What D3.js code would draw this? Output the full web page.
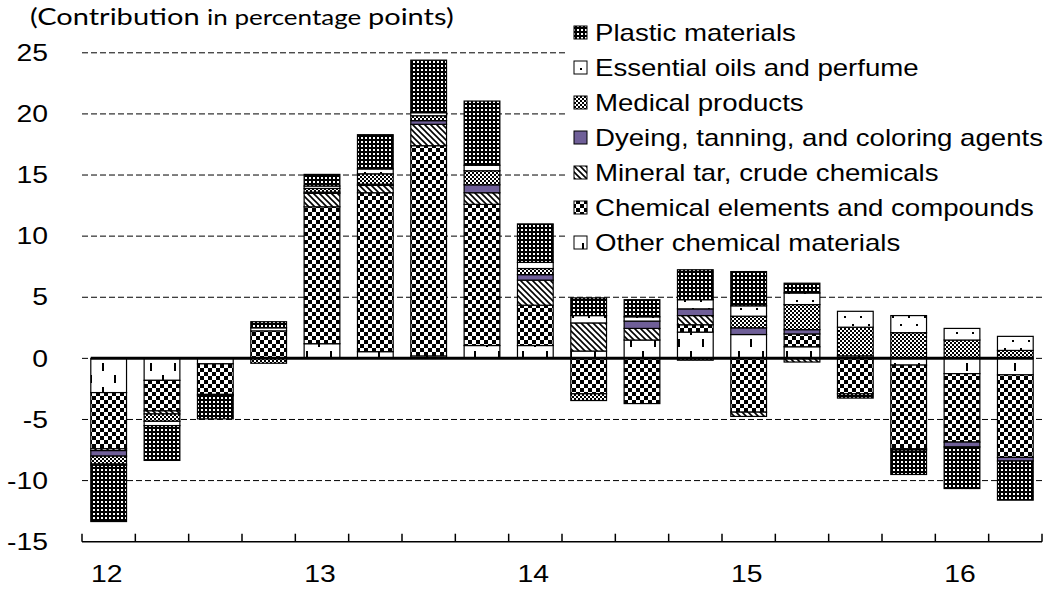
<!DOCTYPE html>
<html>
<head>
<meta charset="utf-8">
<script src="https://cdn.jsdelivr.net/npm/d3@7"></script>
<style>
  html, body { margin: 0; padding: 0; background: #fff; }
  svg { display: block; }
  text { font-family: "Liberation Sans", Arial, sans-serif; fill: #000; }
</style>
</head>
<body>
<svg id="chart" width="1055" height="592"></svg>
<script>
// Quarterly contributions (percentage points), 2012 Q1 – 2016 Q2
const quarters = ["12Q1","12Q2","12Q3","12Q4","13Q1","13Q2","13Q3","13Q4",
                  "14Q1","14Q2","14Q3","14Q4","15Q1","15Q2","15Q3","15Q4","16Q1","16Q2"];
const yearLabels = ["12","13","14","15","16"];
const yTicks = [-15,-10,-5,0,5,10,15,20,25];

const other     = [-2.8,-1.8,-0.45,0,1.2,0.55,0.2,1.05,1.05,0.6,1.5,2.15,1.95,0.95,0.2,-0.55,-1.25,-1.35];
const chemical  = [-4.6,-2.5,-2.5,2.25,11.2,13.0,17.2,11.55,3.3,-2.9,-3.7,0.6,-4.4,1.05,-2.9,-6.85,-5.6,-6.75];
const mineral   = [-0.15,-0.25,-0.1,0,1.1,0.6,1.75,0.95,2.05,2.3,0.95,0.75,-0.35,-0.3,0,-0.1,0,0];
const dyeing    = [-0.45,0,0,0,0.1,0.1,0.3,0.65,0.45,0,0.6,0.55,0.55,0.35,0,0,-0.4,-0.3];
const medical   = [-0.65,-0.6,0,-0.4,0.3,0.85,0.4,1.15,0.5,-0.55,0,-0.15,0.95,2.05,2.35,2.1,1.5,0.65];
const essential = [-0.1,-0.35,0,0.25,0.2,0.4,0.25,0.45,0.5,0.6,0.35,0.75,0.85,0.95,1.3,1.4,0.95,1.15];
const plastic   = [-4.6,-2.85,-1.9,0.5,0.95,2.8,4.3,5.25,3.15,1.45,1.4,2.45,2.8,0.8,-0.35,-2.0,-3.4,-3.2];

// Stack order: first key sits next to zero
const seriesKeys  = ["other","chemical","mineral","dyeing","medical","essential","plastic"];
const seriesNames = {
  plastic: "Plastic materials",
  essential: "Essential oils and perfume",
  medical: "Medical products",
  dyeing: "Dyeing, tanning, and coloring agents",
  mineral: "Mineral tar, crude chemicals",
  chemical: "Chemical elements and compounds",
  other: "Other chemical materials"
};
const seriesValues = { other, chemical, mineral, dyeing, medical, essential, plastic };

const rows = quarters.map((q, i) => {
  const r = { q };
  seriesKeys.forEach(k => r[k] = seriesValues[k][i]);
  return r;
});

const svg = d3.select("#chart");
const SX = 1.18; // horizontal stretch applied to all text

const x = d3.scaleBand().domain(quarters).range([82, 1042]).paddingInner(0.33).paddingOuter(0.165);
const y = d3.scaleLinear().domain([-15, 25]).range([541.7, 52.8]);

// ---- fill patterns ----
const defs = svg.append("defs");
function pat(id, w, h) {
  return defs.append("pattern").attr("id", id).attr("patternUnits", "userSpaceOnUse")
    .attr("width", w).attr("height", h);
}
// plastic: black with white dot grid
let p = pat("p-plastic", 4, 4);
p.append("rect").attr("width", 4).attr("height", 4).attr("fill", "#000");
p.append("rect").attr("x", 1).attr("y", 1).attr("width", 2).attr("height", 2).attr("fill", "#fff");
// essential oils: white with sparse dots
p = pat("p-essential", 16, 16);
p.append("rect").attr("width", 16).attr("height", 16).attr("fill", "#fff");
p.append("rect").attr("x", 4).attr("y", 4).attr("width", 2).attr("height", 2).attr("fill", "#000");
p.append("rect").attr("x", 12).attr("y", 12).attr("width", 2).attr("height", 2).attr("fill", "#000");
// medical: fine checkerboard
p = pat("p-medical", 4, 4);
p.append("rect").attr("width", 4).attr("height", 4).attr("fill", "#fff");
p.append("rect").attr("width", 2).attr("height", 2).attr("fill", "#000");
p.append("rect").attr("x", 2).attr("y", 2).attr("width", 2).attr("height", 2).attr("fill", "#000");
// mineral tar: diagonal hatch
p = pat("p-mineral", 6, 6);
p.append("rect").attr("width", 6).attr("height", 6).attr("fill", "#fff");
p.append("path").attr("d", "M0,0L6,6M-3,3L3,9M3,-3L9,3").attr("stroke", "#000").attr("stroke-width", 1.6);
// chemical: large checkerboard
p = pat("p-chemical", 8, 8);
p.append("rect").attr("width", 8).attr("height", 8).attr("fill", "#fff");
p.append("rect").attr("width", 4).attr("height", 4).attr("fill", "#000");
p.append("rect").attr("x", 4).attr("y", 4).attr("width", 4).attr("height", 4).attr("fill", "#000");
// other: white with short vertical dashes
p = pat("p-other", 24, 24);
p.append("rect").attr("width", 24).attr("height", 24).attr("fill", "#fff");
p.append("rect").attr("x", 6).attr("y", 3).attr("width", 2).attr("height", 8).attr("fill", "#000");
p.append("rect").attr("x", 18).attr("y", 15).attr("width", 2).attr("height", 8).attr("fill", "#000");

const fills = {
  plastic: "url(#p-plastic)", essential: "url(#p-essential)", medical: "url(#p-medical)",
  dyeing: "#6f5f98", mineral: "url(#p-mineral)", chemical: "url(#p-chemical)", other: "url(#p-other)"
};

// ---- gridlines ----
svg.append("g").selectAll("line").data(yTicks.filter(v => v > -15)).join("line")
  .attr("x1", 82).attr("x2", 1042)
  .attr("y1", d => y(d)).attr("y2", d => y(d))
  .attr("stroke", "#000").attr("stroke-width", 1).attr("stroke-dasharray", "6,3");

// ---- stacked bars ----
const stack = d3.stack().keys(seriesKeys).offset(d3.stackOffsetDiverging);
const layers = stack(rows);

svg.append("g").selectAll("g").data(layers).join("g")
  .attr("fill", d => fills[d.key])
  .selectAll("rect").data(d => d.filter(s => Math.abs(s[1] - s[0]) > 1e-9)).join("rect")
  .attr("x", d => x(d.data.q))
  .attr("width", x.bandwidth())
  .attr("y", d => y(Math.max(d[0], d[1])))
  .attr("height", d => Math.abs(y(d[0]) - y(d[1])))
  .attr("stroke", "#000").attr("stroke-width", 1.2);

// ---- zero line ----
svg.append("line")
  .attr("x1", x(quarters[0])).attr("x2", x(quarters[quarters.length - 1]) + x.bandwidth())
  .attr("y1", y(0)).attr("y2", y(0))
  .attr("stroke", "#000").attr("stroke-width", 3);

// ---- category axis ----
const axisY = y(-15);
svg.append("line").attr("x1", 82).attr("x2", 1042).attr("y1", axisY).attr("y2", axisY)
  .attr("stroke", "#000").attr("stroke-width", 1.5);
const step = x.step();
svg.append("g").selectAll("line").data(d3.range(quarters.length + 1)).join("line")
  .attr("x1", i => 82 + i * step).attr("x2", i => 82 + i * step)
  .attr("y1", axisY).attr("y2", axisY - 8)
  .attr("stroke", "#000").attr("stroke-width", 1.5);

function stretchedText(g, tx, ty, str, size, anchor) {
  return g.append("text")
    .attr("transform", `translate(${tx},${ty}) scale(${SX},1)`)
    .attr("text-anchor", anchor || "start")
    .attr("dominant-baseline", "central")
    .style("font-size", size + "px")
    .text(str);
}

const gx = svg.append("g");
yearLabels.forEach((lab, i) => {
  const q = quarters[i * 4];
  stretchedText(gx, x(q) + x.bandwidth() / 2 - 2, 574, lab, 24, "middle");
});

// ---- value axis labels ----
const gy = svg.append("g");
yTicks.forEach(v => stretchedText(gy, 48, y(v), String(v), 24, "end"));

// ---- unit note ----
const note = svg.append("text")
  .attr("transform", `translate(30,25) scale(1.21,1)`)
  .style("font-family", "Lato, 'Open Sans', sans-serif");
note.append("tspan").style("font-size", "24px").text("(Contribution ");
note.append("tspan").style("font-size", "21.5px").text("in percentage ");
note.append("tspan").style("font-size", "24px").text("points)");

// ---- legend ----
const legend = svg.append("g");
legend.append("rect").attr("x", 566).attr("y", 12).attr("width", 489).attr("height", 248).attr("fill", "#fff");
const legendKeys = seriesKeys.slice().reverse();
legendKeys.forEach((k, i) => {
  const cy = 32 + i * 35;
  legend.append("rect").attr("x", 574).attr("y", cy - 6).attr("width", 13).attr("height", 13)
    .attr("fill", fills[k]).attr("stroke", "#000").attr("stroke-width", 1);
  stretchedText(legend, 595, cy + 1, seriesNames[k], 23.4, "start");
});
</script>
</body>
</html>
